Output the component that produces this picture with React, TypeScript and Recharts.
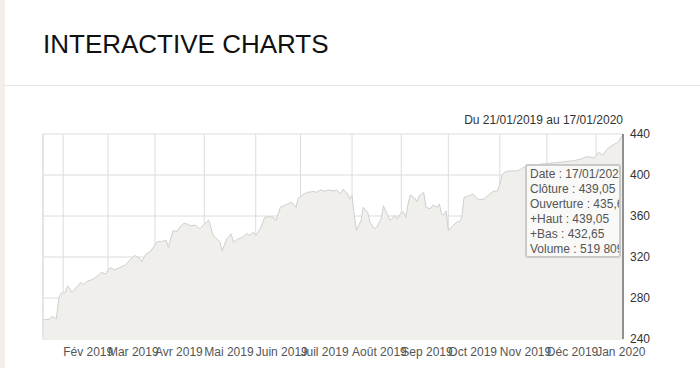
import { Area, AreaChart, CartesianGrid, ReferenceLine, Tooltip, XAxis, YAxis } from "recharts";

// trading-day index since 21/01/2019 (weekdays), closing price
const sessions = [
  0, 3, 4, 6, 7, 8, 10, 11, 13, 15,
  17, 18, 20, 22, 25, 26, 28, 30, 32, 34,
  37, 39, 41, 43, 44, 46, 48, 51, 53, 55,
  56, 58, 60, 61, 63, 65, 66, 68, 70, 72,
  74, 76, 77, 79, 80, 82, 84, 85, 87, 89,
  91, 92, 94, 95, 97, 99, 101, 103, 104, 106,
  108, 109, 111, 113, 114, 116, 118, 121, 122, 124,
  126, 127, 130, 131, 133, 134, 136, 137, 138, 139,
  140, 142, 143, 145, 146, 148, 149, 151, 152, 154,
  155, 157, 158, 160, 161, 162, 163, 164, 166, 167,
  168, 170, 171, 173, 174, 176, 177, 178, 179, 180,
  181, 183, 185, 186, 187, 188, 191, 192, 194, 195,
  197, 199, 201, 203, 204, 205, 206, 208, 209, 212,
  214, 215, 220, 224, 229, 233, 237, 240, 243, 246,
  248, 250, 252, 255, 257, 258, 259,
];

const closes = [
  258.5, 259.5, 262, 260, 279, 284.5, 285.5, 292, 285.5, 290.5,
  295.5, 293, 296.5, 298, 302.5, 305, 303.5, 309.5, 307.5, 309.5,
  312.5, 317.5, 321.5, 319, 315.5, 323, 325.5, 335, 335, 336.5,
  329.5, 345.5, 345, 349, 353, 351.5, 350.5, 351, 347.5, 352,
  356, 341, 339, 334.5, 326, 337.5, 342.5, 334.5, 337.5, 339,
  343, 341, 344, 341, 347.5, 358.5, 359.5, 358.5, 355.5, 368.5,
  370.5, 371.5, 373.5, 368.5, 377.5, 380.5, 383, 384, 383, 385.5,
  384, 385.5, 384.5, 385.5, 381.5, 386, 381.5, 376.5, 380, 360.5,
  346, 355.5, 368.5, 363.5, 354, 347.5, 349, 357, 370, 360.5,
  355.5, 360.5, 357, 363, 364, 358.5, 371.5, 380.5, 377.5, 374,
  380, 383, 368.5, 367, 370.5, 368.5, 371.5, 362, 361, 365,
  346, 350.5, 354.5, 354, 358.5, 378, 380.5, 381.5, 376.5, 376,
  376.5, 380.5, 384, 384.5, 391, 399.5, 402.5, 404, 404, 404,
  406.5, 408, 410, 411, 412, 413, 414, 415.5, 418, 416.5,
  422, 419.5, 425.5, 430, 432, 437, 439.05,
];

const monthTicks = [9, 29, 50, 72, 95, 115, 138, 160, 181, 204, 225, 247];
const monthLabels = [
  "Fév 2019", "Mar 2019", "Avr 2019", "Mai 2019", "Juin 2019", "Juil 2019",
  "Août 2019", "Sep 2019", "Oct 2019", "Nov 2019", "Déc 2019", "Jan 2020",
];
const priceTicks = [240, 280, 320, 360, 400, 440];

const tooltipLines = [
  "Date : 17/01/2020",
  "Clôture : 439,05",
  "Ouverture : 435,60",
  "+Haut : 439,05",
  "+Bas : 432,65",
  "Volume : 519 809",
];

const data = sessions.map((session, i) => ({ session, close: closes[i] }));

function QuoteTooltip() {
  return (
    <div
      style={{
        width: 89,
        height: 89,
        overflow: "hidden",
        whiteSpace: "nowrap",
        border: "2px solid #cacaca",
        borderRadius: 3,
        background: "rgba(249,249,248,0.9)",
        color: "#555",
        fontSize: 12,
        lineHeight: "15px",
        padding: "1px 0 0 3px",
        boxSizing: "content-box",
      }}
    >
      {tooltipLines.map((line) => (
        <div key={line}>{line}</div>
      ))}
    </div>
  );
}

export default function App() {
  return (
    <div
      style={{
        position: "absolute",
        left: 0,
        top: 0,
        width: 700,
        height: 368,
        background: "#fff",
        fontFamily: "'Liberation Sans', Arial, sans-serif",
        overflow: "hidden",
      }}
    >
      <div style={{ position: "absolute", left: 0, top: 0, width: 5, height: 368, background: "#f2eeea" }} />
      <div
        style={{
          position: "absolute",
          left: 43,
          top: 31,
          fontSize: 26,
          lineHeight: "26px",
          color: "#111",
          whiteSpace: "nowrap",
        }}
      >
        INTERACTIVE CHARTS
      </div>
      <div style={{ position: "absolute", left: 5, top: 85, width: 695, height: 1, background: "#e3e3e3" }} />
      <div
        style={{
          position: "absolute",
          right: 77,
          top: 113,
          fontSize: 12,
          lineHeight: "14px",
          color: "#333",
          whiteSpace: "nowrap",
        }}
      >
        Du 21/01/2019 au 17/01/2020
      </div>

      <div style={{ position: "absolute", left: 0, top: 0 }}>
        <AreaChart width={700} height={368} data={data} margin={{ top: 134, right: 27, bottom: 9, left: 43 }}>
          <CartesianGrid stroke="#dcdcdc" />
          <XAxis
            dataKey="session"
            type="number"
            domain={[0, 259]}
            ticks={monthTicks}
            interval={0}
            height={20}
            axisLine={false}
            tickLine={false}
            tickFormatter={(v: number) => monthLabels[monthTicks.indexOf(v)]}
            tick={{ textAnchor: "start", fill: "#555", fontSize: 12 }}
          />
          <YAxis
            orientation="right"
            domain={[240, 440]}
            ticks={priceTicks}
            width={50}
            tickLine={false}
            tickMargin={1}
            axisLine={{ stroke: "#333" }}
            tick={{ fill: "#333", fontSize: 12, textAnchor: "start" }}
          />
          <ReferenceLine x={0} stroke="#dcdcdc" />
          <Area
            type="linear"
            dataKey="close"
            stroke="#cfcfcf"
            strokeWidth={1}
            fill="#f1efec"
            fillOpacity={1}
            dot={false}
            activeDot={false}
            isAnimationActive={false}
          />
          <Tooltip
            active
            defaultIndex={data.length - 1}
            position={{ x: 525, y: 164 }}
            cursor={false}
            isAnimationActive={false}
            content={<QuoteTooltip />}
          />
        </AreaChart>
      </div>
    </div>
  );
}
